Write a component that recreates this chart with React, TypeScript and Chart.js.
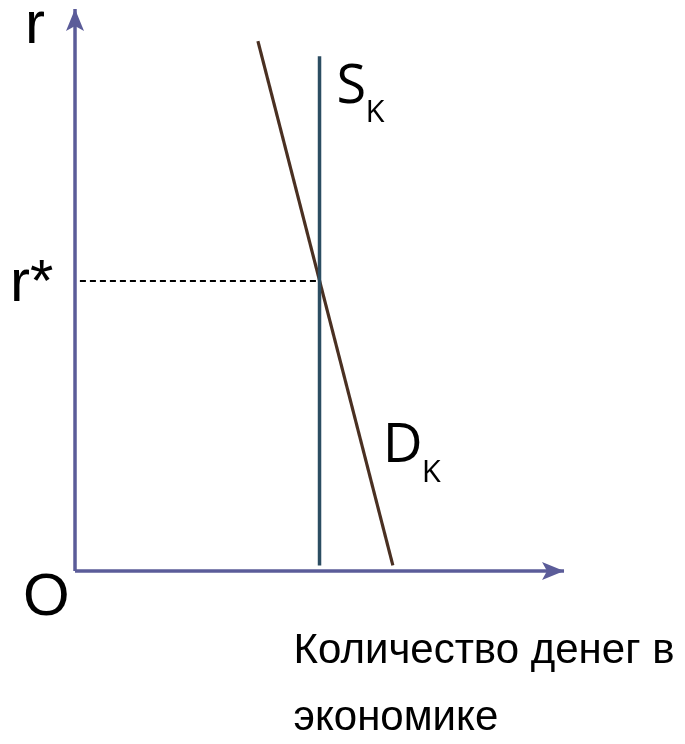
import React, { useEffect, useRef } from "react";
import { Chart, registerables } from "chart.js";

Chart.register(...registerables);

// Data (abstract units: quantity of money on x, interest rate on y)
const axisEnds = { q: 10, r: 10 };
const supplyQ = 5;
const supplyLine = [
  { x: 5, y: 0.1 },
  { x: 5, y: 9.16 },
];
const demandLine = [
  { x: 3.74, y: 9.43 },
  { x: 6.5, y: 0.1 },
];
const rStar = 5.16;
const dashedLine = [
  { x: 0.1, y: rStar },
  { x: supplyQ, y: rStar },
];
const yAxisLine = [
  { x: 0, y: 0 },
  { x: 0, y: axisEnds.r },
];
const xAxisLine = [
  { x: 0, y: 0 },
  { x: axisEnds.q, y: 0 },
];
const labels = {
  y: "r",
  yStar: "r*",
  origin: "O",
  supply: ["S", "K"],
  demand: ["D", "K"],
  xTitle: ["Количество денег в", "экономике"],
};

const AXIS_COLOR = "#5b5c99";
const SUPPLY_COLOR = "#2c4d62";
const DEMAND_COLOR = "#4a3022";

const W = 685;
const H = 744;

export default function App() {
  const ref = useRef<HTMLCanvasElement | null>(null);

  useEffect(() => {
    const canvas = ref.current;
    if (!canvas) return;

    const annot = {
      id: "annot",
      afterDatasetsDraw(chart: any) {
        const ctx = chart.ctx as CanvasRenderingContext2D;
        const xs = chart.scales.x;
        const ys = chart.scales.y;
        const px = (v: number) => xs.getPixelForValue(v);
        const py = (v: number) => ys.getPixelForValue(v);
        ctx.save();
        // arrowheads
        const arrow = (tx: number, ty: number, dx: number, dy: number) => {
          const len = 22;
          const half = 9;
          const notch = 5;
          const nx = -dy;
          const ny = dx;
          const bx = tx - dx * len;
          const by = ty - dy * len;
          ctx.beginPath();
          ctx.moveTo(tx, ty);
          ctx.lineTo(bx + nx * half, by + ny * half);
          ctx.lineTo(tx - dx * (len - notch), ty - dy * (len - notch));
          ctx.lineTo(bx - nx * half, by - ny * half);
          ctx.closePath();
          ctx.fillStyle = AXIS_COLOR;
          ctx.fill();
        };
        const ox = px(0);
        const oy = py(0);
        arrow(ox, py(axisEnds.r), 0, -1);
        arrow(px(axisEnds.q), oy, 1, 0);

        ctx.fillStyle = "#000";
        ctx.textBaseline = "alphabetic";
        ctx.textAlign = "left";
        ctx.font = "60px 'Liberation Sans', Arial, sans-serif";
        ctx.fillText(labels.y, ox - 50, py(axisEnds.r) + 34);
        ctx.fillText(labels.yStar, ox - 65, py(rStar) + 20);
        ctx.fillText(labels.origin, ox - 52, oy + 44);

        // S_K
        const sx = px(supplyLine[1].x);
        const sy = py(supplyLine[1].y);
        ctx.font = "54px 'Open Sans', sans-serif";
        ctx.fillText(labels.supply[0], sx + 17, sy + 47);
        ctx.font = "31px 'Open Sans', sans-serif";
        ctx.fillText(labels.supply[1], sx + 46, sy + 66);

        // D_K
        const dx0 = px(demandLine[1].x);
        const dy0 = py(demandLine[1].y);
        ctx.font = "55px 'Open Sans', sans-serif";
        ctx.fillText(labels.demand[0], dx0 - 10, dy0 - 103);
        ctx.font = "31px 'Open Sans', sans-serif";
        ctx.fillText(labels.demand[1], dx0 + 29, dy0 - 83);

        // x title
        ctx.font = "42px 'Liberation Sans', Arial, sans-serif";
        ctx.fillText(labels.xTitle[0], sx - 26, oy + 92);
        ctx.fillText(labels.xTitle[1], sx - 26, oy + 159);
        ctx.restore();
      },
    };

    const lineDs = (data: any[], color: string, width: number, dash?: number[]) => ({
      data,
      borderColor: color,
      backgroundColor: color,
      borderWidth: width,
      borderDash: dash || [],
      pointRadius: 0,
      showLine: true,
      fill: false,
      tension: 0,
      borderCapStyle: "butt" as const,
    });

    const chart = new Chart(canvas, {
      type: "scatter",
      data: {
        datasets: [
          lineDs(yAxisLine, AXIS_COLOR, 3.5),
          lineDs(xAxisLine, AXIS_COLOR, 3.5),
          lineDs(dashedLine, "#000", 2, [6, 4]),
          lineDs(supplyLine, SUPPLY_COLOR, 3.5),
          lineDs(demandLine, DEMAND_COLOR, 3.2),
        ],
      },
      options: {
        animation: false,
        responsive: false,
        maintainAspectRatio: false,
        devicePixelRatio: 1,
        layout: { padding: 0 },
        plugins: {
          legend: { display: false },
          tooltip: { enabled: false },
        },
        scales: {
          x: { type: "linear", display: false, min: -1.534, max: 12.474 },
          y: { type: "linear", display: false, min: -3.078, max: 10.16 },
        },
      },
      plugins: [annot],
    });
    return () => chart.destroy();
  }, []);

  return (
    <div style={{ position: "fixed", left: 0, top: 0, width: W, height: H, background: "#fff" }}>
      <canvas ref={ref} width={W} height={H} style={{ display: "block" }} />
    </div>
  );
}
